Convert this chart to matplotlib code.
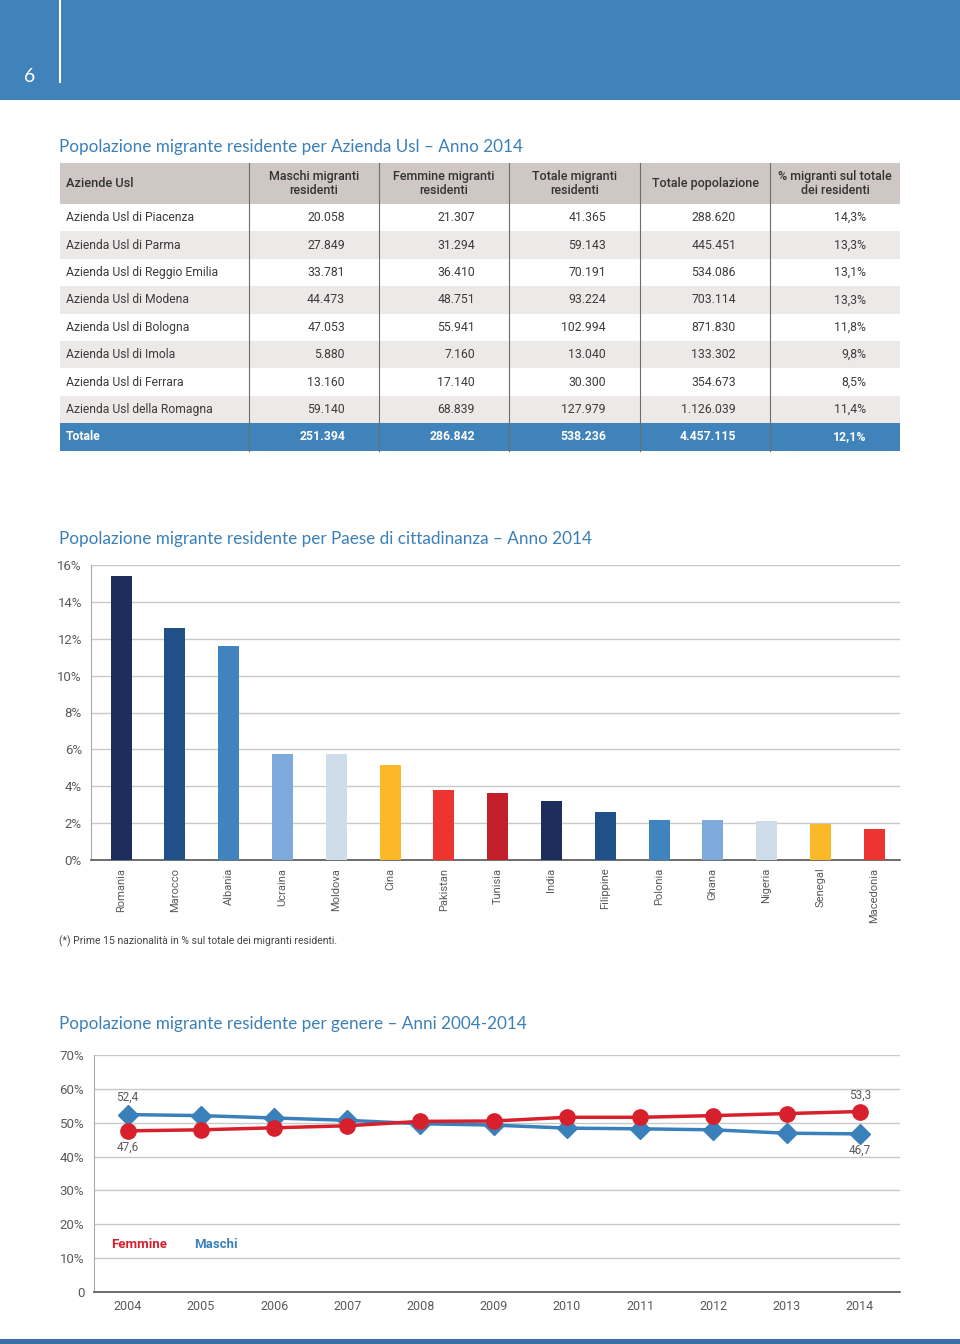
import matplotlib
matplotlib.use('Agg')
import matplotlib.pyplot as plt
from matplotlib.patches import Rectangle

W, H = 960, 1344

# --- table data ---
aziende = ['Azienda Usl di Piacenza', 'Azienda Usl di Parma', 'Azienda Usl di Reggio Emilia',
           'Azienda Usl di Modena', 'Azienda Usl di Bologna', 'Azienda Usl di Imola',
           'Azienda Usl di Ferrara', 'Azienda Usl della Romagna']
maschi = [20058, 27849, 33781, 44473, 47053, 5880, 13160, 59140]
femmine = [21307, 31294, 36410, 48751, 55941, 7160, 17140, 68839]
tot_migranti = [41365, 59143, 70191, 93224, 102994, 13040, 30300, 127979]
tot_pop = [288620, 445451, 534086, 703114, 871830, 133302, 354673, 1126039]
perc = [14.3, 13.3, 13.1, 13.3, 11.8, 9.8, 8.5, 11.4]
perc_tot = 12.1
headers = ['Aziende Usl', 'Maschi migranti\nresidenti', 'Femmine migranti\nresidenti',
           'Totale migranti\nresidenti', 'Totale popolazione', '% migranti sul totale\ndei residenti']

# --- bar chart data ---
paesi = ['Romania', 'Marocco', 'Albania', 'Ucraina', 'Moldova', 'Cina', 'Pakistan', 'Tunisia',
         'India', 'Filippine', 'Polonia', 'Ghana', 'Nigeria', 'Senegal', 'Macedonia']
quota = [15.4, 12.6, 11.6, 5.75, 5.75, 5.15, 3.8, 3.65, 3.2, 2.6, 2.15, 2.15, 2.1, 1.95, 1.7]
bar_colors = ['#1d2d5c', '#1f5188', '#3f84bf', '#7eaadb', '#cfdcea', '#fbb829', '#ec3430', '#c21f2b',
              '#1d2d5c', '#1f5188', '#3f84bf', '#7eaadb', '#cfdcea', '#fbb829', '#ec3430']

# --- line chart data ---
anni = list(range(2004, 2015))
femm_pct = [47.6, 47.9, 48.5, 49.1, 50.4, 50.5, 51.6, 51.6, 52.1, 52.7, 53.3]
masc_pct = [52.4, 52.1, 51.4, 50.7, 49.7, 49.3, 48.4, 48.2, 47.9, 46.9, 46.7]

BLUE = '#3f83ba'
TITLE = '#3b80b8'
GRAY = '#5a5a5a'
RED = '#d7202b'
LBLUE = '#3a80bb'

plt.rcParams['font.family'] = ['Roboto', 'DejaVu Sans']


def fmt_it(v):
    return f"{v:,}".replace(',', '.')


def fmt_pct(v):
    return f"{v:.1f}%".replace('.', ',')


def box(l, t, r, b):
    return [l / W, 1 - b / H, (r - l) / W, (b - t) / H]


fig = plt.figure(figsize=(W / 100, H / 100), dpi=100)
fig.patch.set_facecolor('white')

# page overlay (header band, titles, table)
ax0 = fig.add_axes([0, 0, 1, 1])
ax0.set_xlim(0, W)
ax0.set_ylim(H, 0)
ax0.axis('off')

ax0.add_patch(Rectangle((0, 0), W, 100, color=BLUE, lw=0))
ax0.plot([60, 60], [0, 82], color='white', lw=1.5)
ax0.text(30, 82, '6', color='white', fontsize=14, ha='center', va='baseline', fontfamily='Lato')
ax0.add_patch(Rectangle((0, 1339), W, 5, color='#3c6ea8', lw=0))

title_kw = dict(color=TITLE, fontsize=12.3, fontfamily='Lato', ha='left', va='baseline')
ax0.text(59, 152, 'Popolazione migrante residente per Azienda Usl – Anno 2014', **title_kw)
ax0.text(59, 544, 'Popolazione migrante residente per Paese di cittadinanza – Anno 2014', **title_kw)
ax0.text(59, 1029, 'Popolazione migrante residente per genere – Anni 2004-2014', **title_kw)

# table
cols_x = [60, 249, 379, 509, 640, 770, 900]
top, head_b, rh = 163, 204, 27.4
ax0.add_patch(Rectangle((cols_x[0], top), cols_x[-1] - cols_x[0], head_b - top, color='#cec7c4', lw=0))
for j, h in enumerate(headers):
    if j == 0:
        ax0.text(cols_x[0] + 6, (top + head_b) / 2, h, ha='left', va='center', fontsize=9.2,
                 fontweight='medium', color='#333333')
    else:
        ax0.text((cols_x[j] + cols_x[j + 1]) / 2, (top + head_b) / 2, h, ha='center', va='center',
                 fontsize=9, fontweight='medium', color='#333333', linespacing=1.1)

rows = []
for i in range(len(aziende)):
    rows.append([aziende[i], fmt_it(maschi[i]), fmt_it(femmine[i]), fmt_it(tot_migranti[i]),
                 fmt_it(tot_pop[i]), fmt_pct(perc[i])])
rows.append(['Totale', fmt_it(sum(maschi)), fmt_it(sum(femmine)), fmt_it(sum(tot_migranti)),
             fmt_it(sum(tot_pop)), fmt_pct(perc_tot)])

for i, r in enumerate(rows):
    y0 = head_b + i * rh
    last = i == len(rows) - 1
    if last:
        bg, fc, fw = BLUE, 'white', 'bold'
    else:
        bg, fc, fw = ('white' if i % 2 == 0 else '#ece9e8'), '#3c3c3c', 'normal'
    ax0.add_patch(Rectangle((cols_x[0], y0), cols_x[-1] - cols_x[0], rh, color=bg, lw=0))
    yc = y0 + rh / 2
    ax0.text(cols_x[0] + 6, yc, r[0], ha='left', va='center', fontsize=8.7, color=fc, fontweight=fw)
    for j in range(1, 6):
        ax0.text(cols_x[j + 1] - 34, yc, r[j], ha='right', va='center', fontsize=8.8, color=fc, fontweight=fw)

table_b = head_b + len(rows) * rh
for x in cols_x[1:-1]:
    ax0.plot([x, x], [top, table_b], color='#6d6d6d', lw=0.8)

ax0.text(59, 944, '(*) Prime 15 nazionalità in % sul totale dei migranti residenti.',
         fontsize=7.5, color='#444444', ha='left', va='baseline')

# bar chart
ax1 = fig.add_axes(box(91, 565, 900, 860))
xs = range(len(paesi))
ax1.bar(xs, quota, width=0.39, color=bar_colors, zorder=3)
ax1.set_xlim(-0.56, len(paesi) - 0.52)
ax1.set_ylim(0, 16)
ax1.set_yticks(range(0, 17, 2))
ax1.set_yticklabels([f'{v}%' for v in range(0, 17, 2)])
ax1.set_xticks(list(xs))
ax1.set_xticklabels(paesi, rotation=90, va='top', ha='center')
ax1.grid(axis='y', color='#c8c8c8', lw=1, zorder=0)
for s in ['top', 'right']:
    ax1.spines[s].set_visible(False)
ax1.spines['left'].set_color('#aaaaaa')
ax1.spines['left'].set_linewidth(0.8)
ax1.spines['bottom'].set_color('#555555')
ax1.spines['bottom'].set_linewidth(1.2)
ax1.tick_params(axis='y', length=0, pad=6.5, labelsize=9.5, labelcolor=GRAY)
ax1.tick_params(axis='x', length=0, pad=5.5, labelsize=8, labelcolor=GRAY)

# line chart
ax2 = fig.add_axes(box(94, 1055, 900, 1292))
ax2.plot(anni, masc_pct, color=LBLUE, lw=2.5, marker='D', markersize=10, zorder=3)
ax2.plot(anni, femm_pct, color=RED, lw=2.5, marker='o', markersize=11, zorder=4)
ax2.set_xlim(2003.54, 2014.55)
ax2.set_ylim(0, 70)
ax2.set_yticks(range(0, 71, 10))
ax2.set_yticklabels(['0'] + [f'{v}%' for v in range(10, 71, 10)])
ax2.set_xticks(anni)
ax2.grid(axis='y', color='#c8c8c8', lw=1, zorder=0)
for s in ['top', 'right']:
    ax2.spines[s].set_visible(False)
ax2.spines['left'].set_color('#aaaaaa')
ax2.spines['left'].set_linewidth(0.8)
ax2.spines['bottom'].set_color('#555555')
ax2.spines['bottom'].set_linewidth(1.2)
ax2.tick_params(axis='y', length=0, pad=7, labelsize=9.5, labelcolor=GRAY)
ax2.tick_params(axis='x', length=0, pad=6, labelsize=9, labelcolor=GRAY)

lab_kw = dict(fontsize=8.5, color=GRAY, ha='center')
ax2.annotate(fmt_pct(masc_pct[0]).rstrip('%'), (anni[0], masc_pct[0]), xytext=(0, 8),
             textcoords='offset points', va='bottom', **lab_kw)
ax2.annotate(fmt_pct(femm_pct[0]).rstrip('%'), (anni[0], femm_pct[0]), xytext=(0, -7),
             textcoords='offset points', va='top', **lab_kw)
ax2.annotate(fmt_pct(femm_pct[-1]).rstrip('%'), (anni[-1], femm_pct[-1]), xytext=(0, 7),
             textcoords='offset points', va='bottom', **lab_kw)
ax2.annotate(fmt_pct(masc_pct[-1]).rstrip('%'), (anni[-1], masc_pct[-1]), xytext=(0, -7),
             textcoords='offset points', va='top', **lab_kw)

ax2.text(0.021, 0.2, 'Femmine', transform=ax2.transAxes, color=RED, fontsize=9.5,
         fontweight='bold', ha='left', va='center')
ax2.text(0.124, 0.2, 'Maschi', transform=ax2.transAxes, color=LBLUE, fontsize=9.5,
         fontweight='bold', ha='left', va='center')

fig.savefig('out.png', dpi=100, facecolor='white')
